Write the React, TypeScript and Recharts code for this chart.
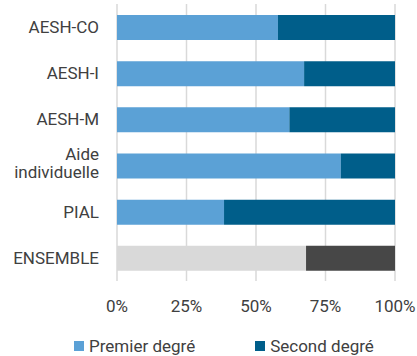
import { BarChart, Bar, XAxis, YAxis, CartesianGrid, Legend, Cell } from 'recharts';

const categories = ['AESH-CO', 'AESH-I', 'AESH-M', 'Aide individuelle', 'PIAL', 'ENSEMBLE'];
const premierDegre = [57.9, 67.3, 62.0, 80.5, 38.5, 68.0];
const secondDegre = [42.1, 32.7, 38.0, 19.5, 61.5, 32.0];
const xTicks = [0, 25, 50, 75, 100];

const LIGHT = '#5ba1d6';
const DARK = '#005e8a';
const TEXT = '#404040';
const FONT = 'Roboto, sans-serif';

const data = categories.map((name, i) => ({
  name,
  premier: premierDegre[i],
  second: secondDegre[i],
}));

function CategoryTick({ x, y, payload }: any) {
  const label: string = payload.value;
  if (label === 'Aide individuelle') {
    return (
      <text x={x} y={y} textAnchor="end" fill={TEXT} fontSize={17} fontFamily={FONT}>
        <tspan x={x} dy={-6}>Aide</tspan>
        <tspan x={x} dy={18}>individuelle</tspan>
      </text>
    );
  }
  return (
    <text x={x} y={y} dy={6} textAnchor="end" fill={TEXT} fontSize={17} fontFamily={FONT}>
      {label}
    </text>
  );
}

function LegendContent() {
  const items = [
    { label: 'Premier degré', color: LIGHT },
    { label: 'Second degré', color: DARK },
  ];
  return (
    <div style={{ display: 'flex', marginLeft: 74, gap: 60, fontFamily: FONT, fontSize: 17, color: TEXT }}>
      {items.map((it) => (
        <div key={it.label} style={{ display: 'flex', alignItems: 'center', lineHeight: '20px' }}>
          <span style={{ display: 'inline-block', width: 10, height: 10, background: it.color, marginRight: 5 }} />
          {it.label}
        </div>
      ))}
    </div>
  );
}

export default function App() {
  return (
    <div style={{ position: 'absolute', left: 0, top: 0 }}>
      <BarChart
        width={417}
        height={356}
        data={data}
        layout="vertical"
        margin={{ top: 4, right: 22, bottom: 0, left: 0 }}
      >
        <CartesianGrid horizontal={false} stroke="#d9d9d9" strokeWidth={1.5} />
        <XAxis
          type="number"
          domain={[0, 100]}
          ticks={xTicks}
          tickFormatter={(v) => `${v}%`}
          axisLine={false}
          tickLine={false}
          tickMargin={13}
          height={75}
          tick={{ fill: TEXT, fontSize: 17, fontFamily: FONT }}
        />
        <YAxis
          type="category"
          dataKey="name"
          width={117}
          axisLine={false}
          tickLine={false}
          tickMargin={12}
          tick={<CategoryTick />}
        />
        <Legend
          layout="horizontal"
          verticalAlign="middle"
          align="center"
          content={<LegendContent />}
          wrapperStyle={{ top: 336, left: 0, width: 417 }}
        />
        <Bar dataKey="premier" stackId="a" barSize={25} isAnimationActive={false}>
          {data.map((d) => (
            <Cell key={d.name} fill={d.name === 'ENSEMBLE' ? '#d9d9d9' : LIGHT} />
          ))}
        </Bar>
        <Bar dataKey="second" stackId="a" barSize={25} isAnimationActive={false}>
          {data.map((d) => (
            <Cell key={d.name} fill={d.name === 'ENSEMBLE' ? '#474747' : DARK} />
          ))}
        </Bar>
      </BarChart>
    </div>
  );
}
